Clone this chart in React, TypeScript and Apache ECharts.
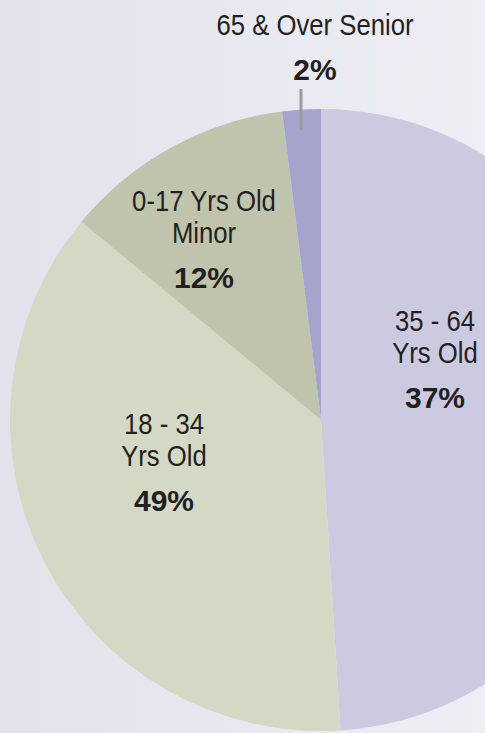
import React, { useEffect, useRef } from "react";
import * as echarts from "echarts";

// ---- data ----
const categories = ["35 - 64\nYrs Old", "18 - 34\nYrs Old", "0-17 Yrs Old\nMinor", "65 & Over Senior"];
const sliceValues = [49, 37, 12, 2];
const labelPercents = ["37%", "49%", "12%", "2%"];

// ---- styling / layout ----
const sliceColors = ["#cbcae0", "#d4d9c6", "#c0c4ac", "#a5a4cc"];
// centre of the first text line of each label
const labelSpots = [
  { x: 435, y: 321 },
  { x: 164, y: 424 },
  { x: 204, y: 201 },
  { x: 315, y: 25 },
];
const LINE_GAP = 31.5;
const PCT_GAP = 44.5;
const NARROW_SCALE = 0.857;
const FONT = "'Liberation Sans', Arial, sans-serif";
const TEXT_COLOR = "#231f20";

function buildLabels() {
  const els: any[] = [];
  categories.forEach((cat, i) => {
    const spot = labelSpots[i];
    const lines = cat.split("\n");
    lines.forEach((line, k) => {
      els.push({
        type: "text",
        z: 110,
        x: spot.x,
        y: spot.y + k * LINE_GAP,
        scaleX: NARROW_SCALE,
        silent: true,
        style: {
          text: line,
          x: 0,
          y: 0,
          align: "center",
          verticalAlign: "middle",
          font: `normal 30px ${FONT}`,
          fill: TEXT_COLOR,
        },
      });
    });
    els.push({
      type: "text",
      z: 110,
      x: spot.x,
      y: spot.y + (lines.length - 1) * LINE_GAP + PCT_GAP,
      silent: true,
      style: {
        text: labelPercents[i],
        x: 0,
        y: 0,
        align: "center",
        verticalAlign: "middle",
        font: `bold 30px ${FONT}`,
        fill: TEXT_COLOR,
      },
    });
  });
  return els;
}

export default function App() {
  const ref = useRef<HTMLDivElement>(null);

  useEffect(() => {
    document.body.style.margin = "0";
    if (!ref.current) return;
    const chart = echarts.init(ref.current, undefined, { renderer: "svg" });
    chart.setOption({
      animation: false,
      backgroundColor: "transparent",
      series: [
        {
          type: "pie",
          center: [321, 420],
          radius: [0, 311],
          startAngle: 90,
          clockwise: true,
          avoidLabelOverlap: false,
          silent: true,
          itemStyle: { borderWidth: 0 },
          emphasis: { disabled: true },
          labelLine: { show: false },
          label: { show: false },
          data: categories.map((name, i) => ({
            name,
            value: sliceValues[i],
            itemStyle: { color: sliceColors[i] },
          })),
        },
      ],
      graphic: [
        {
          type: "line",
          z: 100,
          silent: true,
          shape: { x1: 301, y1: 89, x2: 301, y2: 130 },
          style: { stroke: "#9b9b9b", lineWidth: 3 },
        },
        ...buildLabels(),
      ],
    });
    return () => chart.dispose();
  }, []);

  return (
    <div
      ref={ref}
      style={{
        width: 485,
        height: 733,
        background: "linear-gradient(to right, #e2e2ec 0%, #e8e8f0 50%, #efeef5 100%)",
      }}
    />
  );
}
